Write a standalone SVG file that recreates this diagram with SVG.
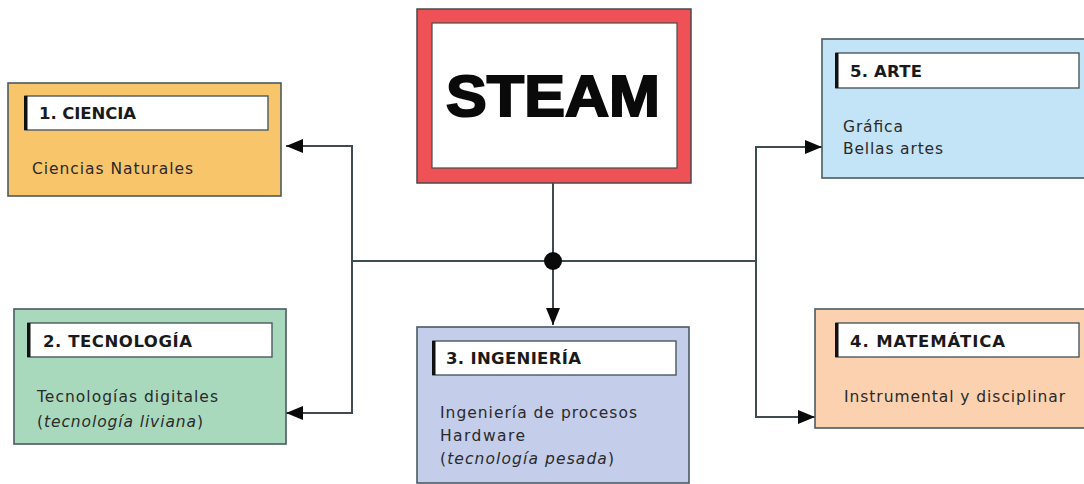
<svg xmlns="http://www.w3.org/2000/svg" width="1084" height="484" viewBox="0 0 1084 484">
  <defs>
    <marker id="arrow" markerUnits="userSpaceOnUse" markerWidth="18" markerHeight="16" refX="17" refY="8" orient="auto">
      <path d="M0,1 L17,8 L0,15 Z" fill="#0a0a0a"/>
    </marker>
    <style>
      .box { stroke: #4a5a60; stroke-width: 1.6; }
      .label { fill: #ffffff; stroke: #4a5a60; stroke-width: 1.4; }
      .bar { fill: #111111; }
      .title { font-family: "DejaVu Sans", "Liberation Sans", sans-serif; font-weight: bold; font-size: 16.5px; fill: #1a1a1a; }
      .body { font-family: "DejaVu Sans", "Liberation Sans", sans-serif; font-size: 15.5px; fill: #2a2a2a; }
      .it { font-style: italic; }
      .wire { fill: none; stroke: #3e4b50; stroke-width: 2; }
    </style>
  </defs>

  <rect x="0" y="0" width="1084" height="484" fill="#ffffff"/>

  <!-- connectors -->
  <g id="connectors">
    <line class="wire" x1="553" y1="183" x2="553" y2="261"/>
    <line class="wire" x1="352" y1="261" x2="756" y2="261"/>
    <polyline class="wire" points="352,261 352,146 286,146" marker-end="url(#arrow)"/>
    <polyline class="wire" points="352,261 352,413 286,413" marker-end="url(#arrow)"/>
    <polyline class="wire" points="756,261 756,147 822,147" marker-end="url(#arrow)"/>
    <polyline class="wire" points="756,261 756,417 815,417" marker-end="url(#arrow)"/>
    <line class="wire" x1="553" y1="261" x2="553" y2="325" marker-end="url(#arrow)"/>
    <circle cx="553" cy="261" r="9" fill="#0a0a0a"/>
  </g>

  <!-- central node -->
  <g id="steam">
    <rect x="417" y="9" width="274" height="174" fill="#ee5257" stroke="#4a4a4a" stroke-width="1.5"/>
    <rect x="432" y="23" width="245" height="145" fill="#ffffff" stroke="#4a4a4a" stroke-width="1.2"/>
    <text x="446" y="116" font-family="'Liberation Sans', Arial, sans-serif" font-weight="bold" font-size="58" fill="#0a0a0a" stroke="#0a0a0a" stroke-width="2" textLength="214" lengthAdjust="spacingAndGlyphs">STEAM</text>
  </g>

  <!-- 1. Ciencia -->
  <g id="ciencia">
    <rect class="box" x="8" y="83" width="273" height="113" fill="#f9c56b"/>
    <rect class="label" x="25" y="96" width="243" height="34"/>
    <rect class="bar" x="24" y="96" width="3.5" height="34"/>
    <text class="title" x="39" y="119" textLength="97">1. CIENCIA</text>
    <text class="body" x="32" y="174" textLength="161">Ciencias Naturales</text>
  </g>

  <!-- 2. Tecnología -->
  <g id="tecnologia">
    <rect class="box" x="14" y="309" width="272" height="135" fill="#a9d9bd"/>
    <rect class="label" x="28" y="323" width="244" height="34"/>
    <rect class="bar" x="27" y="323" width="3.5" height="34"/>
    <text class="title" x="43" y="347" textLength="149">2. TECNOLOGÍA</text>
    <text class="body" x="37" y="402" textLength="181">Tecnologías digitales</text>
    <text class="body" x="37" y="427" textLength="166">(<tspan class="it">tecnología liviana</tspan>)</text>
  </g>

  <!-- 3. Ingeniería -->
  <g id="ingenieria">
    <rect class="box" x="417" y="327" width="272" height="156" fill="#c4cdea"/>
    <rect class="label" x="433" y="341" width="243" height="34"/>
    <rect class="bar" x="432" y="341" width="3.5" height="34"/>
    <text class="title" x="446" y="364" textLength="135">3. INGENIERÍA</text>
    <text class="body" x="440" y="418" textLength="197">Ingeniería de procesos</text>
    <text class="body" x="440" y="441" textLength="85">Hardware</text>
    <text class="body" x="440" y="464" textLength="174">(<tspan class="it">tecnología pesada</tspan>)</text>
  </g>

  <!-- 4. Matemática -->
  <g id="matematica">
    <rect class="box" x="815" y="309" width="275" height="119" fill="#fcd1af"/>
    <rect class="label" x="836" y="323" width="243" height="34"/>
    <rect class="bar" x="835" y="323" width="3.5" height="34"/>
    <text class="title" x="850" y="347" textLength="155">4. MATEMÁTICA</text>
    <text class="body" x="844" y="402" textLength="221">Instrumental y disciplinar</text>
  </g>

  <!-- 5. Arte -->
  <g id="arte">
    <rect class="box" x="822" y="39" width="268" height="139" fill="#c3e4f6"/>
    <rect class="label" x="836" y="53" width="243" height="35"/>
    <rect class="bar" x="835" y="53" width="3.5" height="35"/>
    <text class="title" x="850" y="77" textLength="72">5. ARTE</text>
    <text class="body" x="843" y="132" textLength="60">Gráfica</text>
    <text class="body" x="843" y="154" textLength="100">Bellas artes</text>
  </g>
</svg>
